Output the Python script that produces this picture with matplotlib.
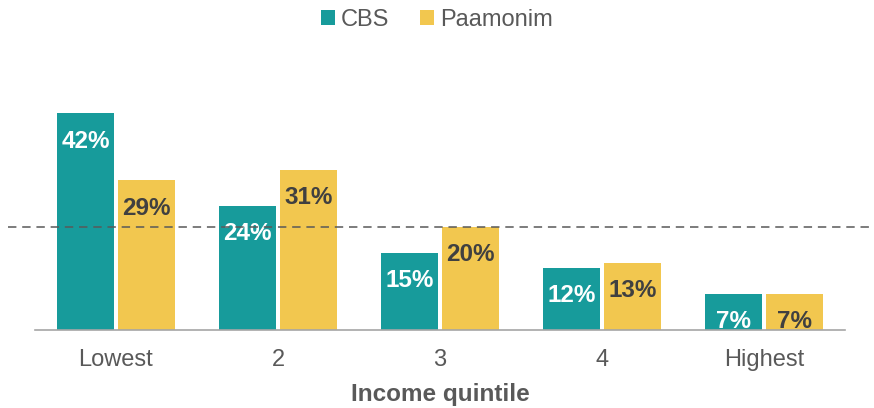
import matplotlib
matplotlib.use("Agg")
import numpy as np
from matplotlib import pyplot as plt

quintiles = ["Lowest", "2", "3", "4", "Highest"]
cbs = [42, 24, 15, 12, 7]
paamonim = [29, 31, 20, 13, 7]
reference_level = 20

TEAL = "#179b9b"
YELLOW = "#f2c74f"
DARK = "#404040"
GREY = "#595959"

plt.rcParams["font.family"] = ["Liberation Sans", "DejaVu Sans"]

fig = plt.figure(figsize=(8.74, 4.08), dpi=100)
ax = fig.add_axes([35 / 874, 78 / 408, 810 / 874, 258 / 408])

x = np.arange(len(quintiles))
width = 0.352
offset = 0.188
bars_cbs = ax.bar(x - offset, cbs, width, color=TEAL, label="CBS")
bars_paam = ax.bar(x + offset, paamonim, width, color=YELLOW, label="Paamonim")

for bars, values, color in [(bars_cbs, cbs, "white"), (bars_paam, paamonim, DARK)]:
    for bar, v in zip(bars, values):
        ax.annotate(f"{v}%", xy=(bar.get_x() + bar.get_width() / 2, v),
                    xytext=(0, -20), textcoords="offset points",
                    ha="center", va="center", fontsize=17.5,
                    fontweight="bold", color=color)

# dashed reference line runs past the plot edges
ax.plot([-0.033, 1.045], [reference_level, reference_level],
        transform=ax.get_yaxis_transform(), clip_on=False,
        color=GREY, lw=1.1, dashes=(5.5, 3.8), zorder=5)

ax.set_xlim(-0.5, len(quintiles) - 0.5)
ax.set_ylim(0, 50)
ax.set_xticks(x)
ax.set_xticklabels(quintiles, fontsize=17, color=GREY)
ax.tick_params(axis="x", length=0, pad=14)
ax.set_yticks([])
for side in ["top", "left", "right"]:
    ax.spines[side].set_visible(False)
ax.spines["bottom"].set_color("#a6a6a6")
ax.spines["bottom"].set_linewidth(1.2)
ax.set_xlabel("Income quintile", fontsize=17.5, fontweight="bold",
              color=GREY, labelpad=8)

fig.legend(loc="upper center", bbox_to_anchor=(0.5, 1.03), ncol=2,
           frameon=False, fontsize=17, handlelength=0.6, handleheight=0.6,
           handletextpad=0.25, columnspacing=1.3, labelcolor=GREY)

fig.savefig("out.png", dpi=100)
